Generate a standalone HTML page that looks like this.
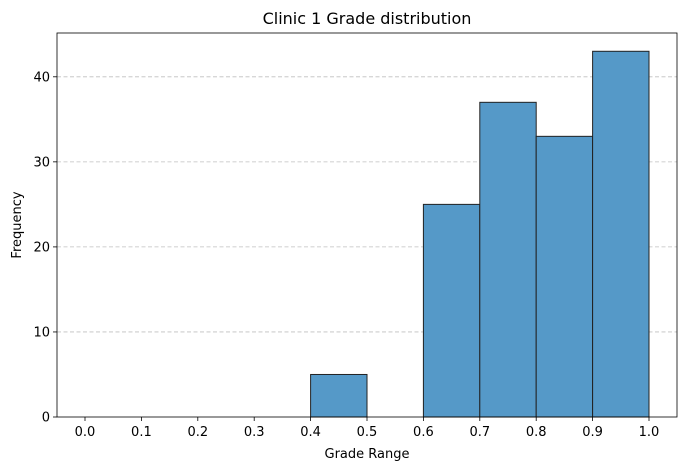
<!DOCTYPE html>
<html><head><meta charset="utf-8"><style>
body{margin:0;background:#fff;font-family:"Liberation Sans","DejaVu Sans",sans-serif}
svg text{font-family:"DejaVu Sans","Liberation Sans",sans-serif;fill:#000}
</style></head><body>
<svg id="c" width="686" height="470"></svg>
<script>
const binStarts=[0.0,0.1,0.2,0.3,0.4,0.5,0.6,0.7,0.8,0.9];
const counts=[0,0,0,0,5,0,25,37,33,43];
const xTicks=[0.0,0.1,0.2,0.3,0.4,0.5,0.6,0.7,0.8,0.9,1.0];
const yTicks=[0,10,20,30,40];
const binWidth=0.1;
const yMax=45.15;
const L=57,R=677,T=33,B=417;
const X0=85,X1=649;
function xs(v){return X0+(X1-X0)*v;}
function ys(v){return B-(B-T)*v/yMax;}
const svg=document.getElementById('c');
const NS='http://www.w3.org/2000/svg';
function mk(tag,attrs,parent){const e=document.createElementNS(NS,tag);for(const k in attrs)e.setAttribute(k,attrs[k]);(parent||svg).appendChild(e);return e;}
yTicks.forEach(t=>{
 if(t===0)return;
 const g=mk('line',{x1:L,x2:R,y1:ys(t),y2:ys(t),stroke:'#b0b0b0','stroke-width':0.8,'stroke-dasharray':'4,2.5','opacity':0.8});
 
 
});
binStarts.forEach((s,i)=>{
 if(counts[i]<=0)return;
 const r=mk('rect',{x:xs(s),y:ys(counts[i]),width:xs(s+binWidth)-xs(s),height:ys(0)-ys(counts[i]),fill:'#5599c8',stroke:'#222','stroke-width':1});
 
 
});
const f=mk('rect',{x:L,y:T,width:R-L,height:B-T,fill:'none',stroke:'#000','stroke-width':0.8});


xTicks.forEach(t=>{
 mk('line',{x1:xs(t),x2:xs(t),y1:B,y2:B+4,stroke:'#000','stroke-width':0.8});
 const tx=mk('text',{x:xs(t),y:B+19,'text-anchor':'middle','font-size':13});
 tx.textContent=t.toFixed(1);
 
 
});
yTicks.forEach(t=>{
 mk('line',{x1:L-4,x2:L,y1:ys(t),y2:ys(t),stroke:'#000','stroke-width':0.8});
 const tx=mk('text',{x:L-7,y:ys(t)+4.5,'text-anchor':'end','font-size':13});
 tx.textContent=t;
 
 
});
const xt=mk('text',{x:(L+R)/2,y:458,'text-anchor':'middle','font-size':13});
xt.textContent='Grade Range';


const yt=mk('text',{x:21,y:(T+B)/2,'text-anchor':'middle','font-size':13,transform:'rotate(-90 21 '+((T+B)/2)+')'});
yt.textContent='Frequency';


const tt=mk('text',{x:(L+R)/2,y:24,'text-anchor':'middle','font-size':16});
tt.textContent='Clinic 1 Grade distribution';


</script>
</body></html>
